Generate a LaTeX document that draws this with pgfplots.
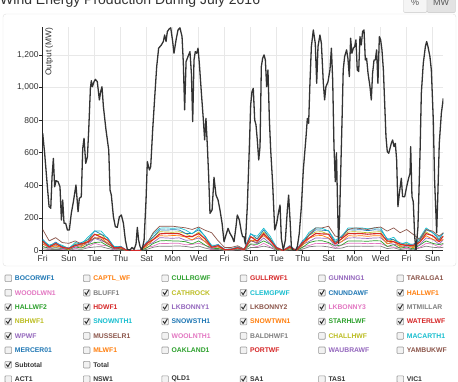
\documentclass[border=0pt]{standalone}
\usepackage{pgfplots}
\pgfplotsset{compat=1.18}
\usepackage{pgfplotstable}
\usepackage{fontspec}
\setmainfont{Liberation Sans}
\definecolor{cblue}{HTML}{1F77B4}
\definecolor{corange}{HTML}{FF7F0E}
\definecolor{cgreen}{HTML}{2CA02C}
\definecolor{cred}{HTML}{D62728}
\definecolor{cpurple}{HTML}{9467BD}
\definecolor{cbrown}{HTML}{8C564B}
\definecolor{cpink}{HTML}{E377C2}
\definecolor{cgray}{HTML}{7F7F7F}
\definecolor{colive}{HTML}{BCBD22}
\definecolor{ccyan}{HTML}{17BECF}
\definecolor{ctext}{HTML}{333333}
\newcommand{\fs}[1]{\fontsize{#1}{#1}\selectfont}

\pgfplotstableread{
d t
0 720
0.15 597
0.36 392
0.49 270
0.62 260
0.72 454
0.82 566
0.92 392
1.03 429
1.18 423
1.33 392
1.44 188
1.54 311
1.64 168
1.77 168
1.9 127
2.05 127
2.2 229
2.36 300
2.56 403
2.72 239
2.82 321
2.97 331
3.08 627
3.18 689
3.31 535
3.44 576
3.54 740
3.67 995
3.74 1042
3.82 1005
3.95 1036
4.05 1050
4.2 1036
4.36 924
4.46 975
4.56 1005
4.67 883
4.87 740
5.08 617
5.18 372
5.28 341
5.44 208
5.59 147
5.74 143
5.9 208
6.05 219
6.21 168
6.36 65
6.51 8
6.72 4
6.87 20
7.03 8
7.18 41
7.28 143
7.38 65
7.49 25
7.64 4
7.8 65
7.95 311
8.05 546
8.21 495
8.31 515
8.46 740
8.62 944
8.77 1128
8.92 1241
9.13 1261
9.28 1282
9.38 1322
9.49 1282
9.59 1343
9.74 1360
9.85 1366
10.0 1282
10.1 1210
10.26 1292
10.41 1353
10.56 1366
10.72 1312
10.82 1149
10.92 863
11.03 1159
11.18 1190
11.33 1220
11.44 1087
11.54 791
11.64 1169
11.74 1220
11.85 1210
11.95 1241
12.05 1149
12.21 965
12.36 801
12.46 679
12.56 811
12.67 638
12.77 454
12.87 229
13.03 249
13.18 450
13.33 341
13.49 311
13.64 249
13.8 168
13.95 55
14.1 96
14.26 137
14.41 106
14.56 86
14.72 55
14.87 147
14.97 219
15.13 188
15.28 117
15.38 86
15.49 86
15.59 41
15.74 270
15.9 638
16.0 893
16.1 975
16.2 995
16.31 801
16.41 771
16.51 679
16.62 556
16.72 638
16.82 1128
16.92 1179
17.03 1200
17.13 1169
17.23 1005
17.33 1108
17.44 801
17.54 617
17.69 413
17.85 127
18.0 168
18.15 239
18.26 280
18.36 76
18.51 4
18.67 65
18.82 249
18.92 341
19.03 188
19.13 25
19.28 0
19.44 0
19.59 25
19.74 106
19.9 270
20.05 495
20.26 699
20.36 811
20.46 781
20.56 1026
20.67 1251
20.82 1353
20.97 1271
21.08 1026
21.18 1251
21.33 1322
21.44 1271
21.59 1026
21.69 924
21.79 1005
21.95 1036
22.1 1108
22.21 1241
22.31 1047
22.41 638
22.51 423
22.6 600
22.68 300
22.76 45
22.84 200
22.94 520
23.03 800
23.12 1108
23.23 1190
23.38 1231
23.48 1179
23.59 1067
23.69 1302
23.79 1210
23.9 1241
24.0 1251
24.1 1292
24.2 1108
24.31 1098
24.41 1312
24.51 1261
24.61 1343
24.72 1353
24.82 1169
24.92 1179
25.03 1087
25.18 1005
25.28 924
25.38 1087
25.49 1169
25.59 1169
25.69 1231
25.79 1026
25.9 1312
26.0 1292
26.1 1231
26.21 1108
26.31 903
26.41 699
26.51 607
26.62 597
26.72 627
26.82 658
26.92 679
27.03 638
27.13 658
27.23 556
27.33 270
27.44 352
27.59 444
27.69 331
27.85 331
28.0 392
28.15 444
28.26 474
28.31 638
28.41 331
28.51 300
28.62 86
28.72 0
28.87 147
29.03 597
29.13 965
29.28 1149
29.44 1251
29.54 1282
29.64 1251
29.79 1190
29.9 1108
30.05 801
30.15 433
30.31 110
30.41 372
30.51 658
30.67 842
30.82 934
}\subtotal

\pgfplotstableread{
d cy bl ol rd or pu gr pk gy br
0 64 70 52 58 40 44 25 27 12 130
0.5 34 26 29 22 23 16 16 8 7 60
1 46 53 37 44 28 34 17 21 8 80
1.5 33 25 28 21 22 15 15 8 7 50
2 13 17 11 14 8 11 5 7 3 45
2.5 50 37 43 31 34 22 23 12 11 60
3 43 51 34 42 26 32 16 20 8 40
3.5 84 68 71 56 56 40 37 23 18 50
4 121 122 99 101 78 76 50 45 23 80
4.5 120 101 100 83 80 61 53 34 25 70
5 74 79 60 65 46 49 29 30 14 40
5.5 26 20 22 16 18 11 12 6 6 20
6 24 27 19 22 14 17 9 11 4 10
6.5 1 1 1 1 1 1 1 0 0 0
7 1 1 1 1 1 1 1 0 0 0
7.5 3 3 2 2 2 2 1 1 1 0
8 46 53 37 44 28 34 17 21 8 40
8.5 101 83 84 68 67 50 44 28 21 110
9 138 128 116 103 92 80 60 45 28 150
9.5 140 126 115 106 90 78 62 44 27 150
10 137 129 113 105 93 76 60 46 28 150
10.5 140 127 116 104 92 79 59 45 29 145
11 126 106 105 87 84 64 55 36 26 140
11.5 103 106 84 87 66 66 42 39 20 130
12 139 128 114 105 91 78 60 45 28 145
12.5 85 89 69 73 54 56 34 33 16 125
13 33 26 28 21 22 15 15 8 7 110
13.5 35 38 28 31 22 24 13 14 7 60
14 8 8 7 6 6 5 4 3 2 20
14.5 11 10 9 8 7 6 5 4 2 20
15 24 22 20 18 16 13 10 8 5 30
15.5 8 8 7 6 6 5 4 3 2 10
16 102 105 83 86 65 65 41 39 20 60
16.5 88 72 74 59 59 43 39 24 19 50
17 138 128 115 105 92 78 60 45 28 100
17.5 89 73 75 60 60 44 40 24 19 70
18 19 22 14 18 11 14 7 9 3 10
18.5 1 1 1 1 1 1 1 0 0 0
19 28 31 22 25 17 19 11 12 5 20
19.5 1 1 1 1 1 1 1 0 0 0
20 54 61 43 50 34 39 21 23 10 40
20.5 113 95 95 78 76 57 50 32 24 100
21 140 128 115 105 92 78 60 45 28 140
21.5 137 126 116 103 93 77 61 44 28 140
22 121 122 99 101 78 76 50 45 23 150
22.5 64 50 54 41 44 30 29 16 14 90
23 86 90 70 74 55 56 35 34 16 80
23.5 140 128 115 105 92 78 60 45 28 130
24 138 127 116 104 90 79 60 46 27 140
24.5 140 129 114 105 92 77 59 45 28 135
25 134 123 110 101 88 75 58 43 27 130
25.5 139 128 115 104 92 78 61 45 28 140
26 140 127 116 105 91 79 60 44 28 145
26.5 67 73 54 60 42 46 26 27 13 120
27 82 67 69 55 56 40 37 22 18 140
27.5 40 48 32 40 24 31 15 19 7 110
28 52 39 44 32 35 23 23 12 12 130
28.5 30 39 24 32 18 25 11 16 5 100
29 77 62 65 51 52 37 34 20 17 70
29.5 140 128 115 105 92 78 60 45 28 130
30 110 112 89 92 70 70 45 41 21 120
30.5 82 67 69 55 56 40 37 22 18 90
30.82 107 110 87 90 69 68 44 40 21 110
}\farms

% checkbox: col, row, checked, colour, label
\newcommand{\cb}[5]{%
  \pgfmathsetmacro{\cx}{5+78.4*(#1-1)}%
  \pgfmathsetmacro{\cy}{381-(278.3+14.4*(#2-1))}%
  \draw[draw=black!40, fill=black!5, rounded corners=0.8pt, line width=0.6pt] (\cx,\cy-3.3) rectangle ++(6.6,6.6);%
  \ifnum#3=1 \draw[line width=1pt, black!80] (\cx+1.3,\cy+0.3) -- (\cx+2.9,\cy-1.9) -- (\cx+5.6,\cy+2.7);\fi
  \node[anchor=west, inner sep=0pt, text=#4, font=\bfseries\fs{6.8}] at (\cx+9.7,\cy) {#5};%
}

\begin{document}
\begin{tikzpicture}[x=1pt,y=1pt]
\path[use as bounding box] (0,0) rectangle (458,381);
\clip (0,0) rectangle (458,381);
\fill[white] (0,0) rectangle (458,381);
% container
\draw[draw=black!12, rounded corners=3pt] (3,367) rectangle (456,115);
% title
\node[anchor=base west, inner sep=0pt, text=ctext, font=\fs{14}] at (0,376) {Wind Energy Production During July 2016};
% buttons
\draw[draw=black!22, fill=black!4, rounded corners=2pt] (403.5,368.3) rectangle (427,392);
\draw[draw=black!22, fill=black!11, rounded corners=2pt] (427,368.3) rectangle (455.5,392);
\node[font=\fs{9}, text=black!65] at (415,378.5) {\%};
\node[font=\fs{9}, text=black!65] at (441,378.5) {MW};

\begin{axis}[
  at={(42.7pt,130.3pt)}, anchor=south west,
  scale only axis, width=400.6pt, height=223.7pt,
  xmin=0, xmax=30.82, ymin=0, ymax=1371,
  axis x line*=bottom, axis y line*=left,
  axis line style={black!85, line width=0.8pt},
  xtick={0,2,...,30},
  xticklabels={Fri,Sun,Tue,Thu,Sat,Mon,Wed,Fri,Sun,Tue,Thu,Sat,Mon,Wed,Fri,Sun},
  ytick={0,200,...,1200},
  tick align=outside, major tick length=3.4pt,
  tick style={black!85, line width=0.8pt},
  grid=major, major grid style={black!9, line width=0.8pt},
  ticklabel style={font=\fs{8.5}, text=ctext},
  yticklabel style={inner xsep=0.6pt},
  xticklabel style={inner ysep=1pt},
  /pgf/number format/1000 sep={,},
  /pgf/number format/assume math mode=true,
  every axis plot/.append style={line join=round, mark=none},
]
\addplot[cgray, line width=0.7pt] table[x=d,y=gy]{\farms};
\addplot[cpink, line width=0.7pt] table[x=d,y=pk]{\farms};
\addplot[cgreen, line width=0.7pt] table[x=d,y=gr]{\farms};
\addplot[cpurple, line width=0.7pt] table[x=d,y=pu]{\farms};
\addplot[corange, line width=0.7pt] table[x=d,y=or]{\farms};
\addplot[colive, line width=0.7pt] table[x=d,y=ol]{\farms};
\addplot[cblue, line width=0.7pt] table[x=d,y=bl]{\farms};
\addplot[ccyan, line width=0.7pt] table[x=d,y=cy]{\farms};
\addplot[cbrown, line width=0.7pt] table[x=d,y=br]{\farms};
\addplot[cred, line width=1.1pt] table[x=d,y=rd]{\farms};
\addplot[black!80, line width=1.3pt] table[x=d,y=t]{\subtotal};
\end{axis}
\node[rotate=90, anchor=base east, inner sep=0pt, font=\fs{8.4}, text=ctext] at (51.3,353.5) {Output (MW)};

% legend grid
\cb{1}{1}{0}{cblue}{BOCORWF1}
\cb{2}{1}{0}{corange}{CAPTL\_WF}
\cb{3}{1}{0}{cgreen}{CULLRGWF}
\cb{4}{1}{0}{cred}{GULLRWF1}
\cb{5}{1}{0}{cpurple}{GUNNING1}
\cb{6}{1}{0}{cbrown}{TARALGA1}
\cb{1}{2}{0}{cpink}{WOODLWN1}
\cb{2}{2}{1}{cgray}{BLUFF1}
\cb{3}{2}{1}{colive}{CATHROCK}
\cb{4}{2}{1}{ccyan}{CLEMGPWF}
\cb{5}{2}{1}{cblue}{CNUNDAWF}
\cb{6}{2}{1}{corange}{HALLWF1}
\cb{1}{3}{1}{cgreen}{HALLWF2}
\cb{2}{3}{1}{cred}{HDWF1}
\cb{3}{3}{1}{cpurple}{LKBONNY1}
\cb{4}{3}{1}{cbrown}{LKBONNY2}
\cb{5}{3}{1}{cpink}{LKBONNY3}
\cb{6}{3}{1}{cgray}{MTMILLAR}
\cb{1}{4}{1}{colive}{NBHWF1}
\cb{2}{4}{1}{ccyan}{SNOWNTH1}
\cb{3}{4}{1}{cblue}{SNOWSTH1}
\cb{4}{4}{1}{corange}{SNOWTWN1}
\cb{5}{4}{1}{cgreen}{STARHLWF}
\cb{6}{4}{1}{cred}{WATERLWF}
\cb{1}{5}{1}{cpurple}{WPWF}
\cb{2}{5}{0}{cbrown}{MUSSELR1}
\cb{3}{5}{0}{cpink}{WOOLNTH1}
\cb{4}{5}{0}{cgray}{BALDHWF1}
\cb{5}{5}{0}{colive}{CHALLHWF}
\cb{6}{5}{0}{ccyan}{MACARTH1}
\cb{1}{6}{0}{cblue}{MERCER01}
\cb{2}{6}{0}{corange}{MLWF1}
\cb{3}{6}{0}{cgreen}{OAKLAND1}
\cb{4}{6}{0}{cred}{PORTWF}
\cb{5}{6}{0}{cpurple}{WAUBRAWF}
\cb{6}{6}{0}{cbrown}{YAMBUKWF}
\cb{1}{7}{1}{ctext}{Subtotal}
\cb{2}{7}{0}{ctext}{Total}
\cb{1}{8}{0}{ctext}{ACT1}
\cb{2}{8}{0}{ctext}{NSW1}
\cb{3}{8}{0}{ctext}{QLD1}
\cb{4}{8}{1}{ctext}{SA1}
\cb{5}{8}{0}{ctext}{TAS1}
\cb{6}{8}{0}{ctext}{VIC1}
\end{tikzpicture}
\end{document}
